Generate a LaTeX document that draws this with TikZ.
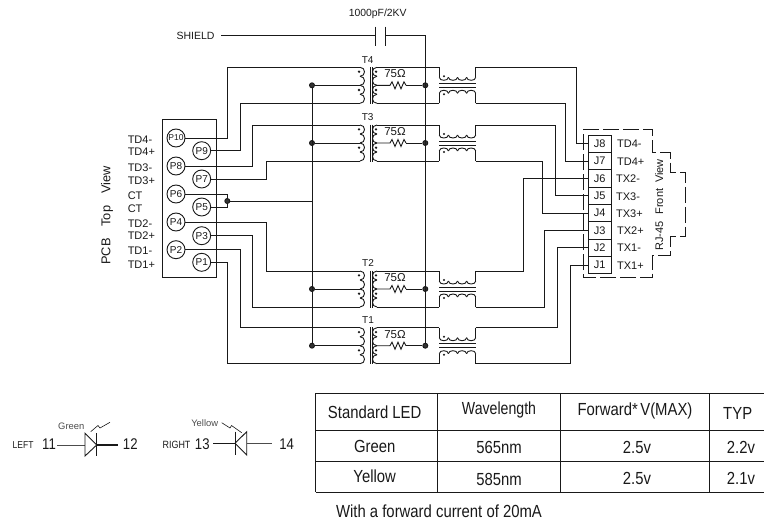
\documentclass[tikz,border=0pt]{standalone}
\usepackage{fontspec}
\setmainfont{Liberation Sans}
\usepackage{tikz}

\tikzset{
    lbl/.style={inner sep=0pt, font=\fontsize{11}{12}\selectfont},
    tinylbl/.style={inner sep=0pt, font=\fontsize{9}{10}\selectfont},
    numlbl/.style={inner sep=0pt, font=\fontsize{15.5}{16}\selectfont, xscale=.85, transform shape},
    tablbl/.style={inner sep=0pt, font=\fontsize{17.5}{18}\selectfont, xscale=.85, transform shape},
    pin/.style={draw, circle, fill=white, minimum size=18pt, inner sep=0pt, font=\fontsize{10}{11}\selectfont},
    jack/.style={draw, fill=white, minimum width=23pt, minimum height=17.35pt, inner sep=0pt, font=\fontsize{11}{12}\selectfont},
    junc/.style={draw, circle, fill=black!80, minimum size=5pt, inner sep=0pt},
    xfmr/.pic={
        \foreach \i in {0,1,2,3} {
            \draw (-8, -18+9*\i) .. controls (-2, -18+9*\i) and (-2, -9+9*\i) .. (-8, -9+9*\i);
            \draw (9, -18+9*\i) .. controls (3, -18+9*\i) and (3, -9+9*\i) .. (9, -9+9*\i);
        }
        \draw (2, -18.5) -- (2, 18.5);
        \draw (4.4, -18.5) -- (4.4, 18.5);
        \fill (-9, -13.6) circle (1.3pt);
        \fill (-9, 4.7) circle (1.3pt);
        \fill (8, -13.6) circle (1.3pt);
        \fill (8, 4.7) circle (1.3pt);
        \draw (9, 0) -- (22, 0) -- (24, -3.5) -- (27, 3.5) -- (30, -3.5) -- (33, 3.5) -- (36, -3.5) -- (38, 0);
        \coordinate (-a) at (-8, -18);
        \coordinate (-b) at (-8, 0);
        \coordinate (-c) at (-8, 18);
        \coordinate (-d) at (9, -18);
        \coordinate (-e) at (9, 18);
        \coordinate (-r) at (38, 0);
    },
    choke/.pic={
        \foreach \i in {0,1,2,3} {
            \draw (9.1*\i, -8) .. controls (9.1*\i, -4) and (9.1+9.1*\i, -4) .. (9.1+9.1*\i, -8);
            \draw (9.1*\i, 8) .. controls (9.1*\i, 4) and (9.1+9.1*\i, 4) .. (9.1+9.1*\i, 8);
        }
        \draw (0, -18) -- (0, -8);
        \draw (36.4, -18) -- (36.4, -8);
        \draw (0, 18) -- (0, 8);
        \draw (36.4, 18) -- (36.4, 8);
        \draw (0, -2) -- (36.4, -2);
        \draw (0, 2) -- (36.4, 2);
        \fill (4.7, -9) circle (1.1pt);
        \fill (4.7, 9) circle (1.1pt);
        \coordinate (-a) at (0, -18);
        \coordinate (-b) at (0, 18);
        \coordinate (-c) at (36.4, -18);
        \coordinate (-d) at (36.4, 18);
    }
}

\begin{document}
\begin{tikzpicture}[x=1pt, y=-1pt, line width=.9pt, black!90]
    \useasboundingbox (0, 0) rectangle (764, 522);

    \node[draw, minimum width=54pt, minimum height=158pt, inner sep=0pt] (pcb) at (189.7, 198) {};
    \node[pin, font=\fontsize{8.5}{9}\selectfont] (p10) at (176, 138) {P10};
    \node[pin] (p9) at (201.7, 150.7) {P9};
    \node[pin] (p8) at (176, 166) {P8};
    \node[pin] (p7) at (201.7, 179) {P7};
    \node[pin] (p6) at (176, 194) {P6};
    \node[pin] (p5) at (201.7, 207) {P5};
    \node[pin] (p4) at (176, 222) {P4};
    \node[pin] (p3) at (201.7, 235.7) {P3};
    \node[pin] (p2) at (176, 249.7) {P2};
    \node[pin] (p1) at (201.7, 262.3) {P1};

    \node[lbl, anchor=west] (td4m) at (127.3, 139.3) {TD4-};
    \node[lbl, anchor=west] (td4p) at (127.3, 152) {TD4+};
    \node[lbl, anchor=west] (td3m) at (127.3, 167.3) {TD3-};
    \node[lbl, anchor=west] (td3p) at (127.3, 180.7) {TD3+};
    \node[lbl, anchor=west] (cta) at (127.3, 195.7) {CT};
    \node[lbl, anchor=west] (ctb) at (127.3, 209) {CT};
    \node[lbl, anchor=west] (td2m) at (127.3, 223.3) {TD2-};
    \node[lbl, anchor=west] (td2p) at (127.3, 236) {TD2+};
    \node[lbl, anchor=west] (td1m) at (127.3, 251) {TD1-};
    \node[lbl, anchor=west] (td1p) at (127.3, 264.3) {TD1+};
    \node[lbl, rotate=90, font=\fontsize{12.8}{13}\selectfont] (pcbview) at (107, 215.5) {PCB\hspace{12pt}Top\hspace{12pt}View};

    \pic (t4) at (368, 85.3) {xfmr};
    \pic (t3) at (368, 143) {xfmr};
    \pic (t2) at (368, 289) {xfmr};
    \pic (t1) at (368, 345.7) {xfmr};
    \pic (c4) at (439.3, 85.3) {choke};
    \pic (c3) at (439.3, 143) {choke};
    \pic (c2) at (439.3, 289) {choke};
    \pic (c1) at (439.3, 345.7) {choke};

    \node[lbl, font=\fontsize{10}{11}\selectfont] (t4name) at (367.7, 60.3) {T4};
    \node[lbl, font=\fontsize{10}{11}\selectfont] (t3name) at (367.7, 117.3) {T3};
    \node[lbl, font=\fontsize{10}{11}\selectfont] (t2name) at (368, 263.3) {T2};
    \node[lbl, font=\fontsize{10}{11}\selectfont] (t1name) at (368, 320) {T1};
    \node[lbl, font=\fontsize{11.5}{12}\selectfont] (r4) at (395, 74) {75Ω};
    \node[lbl, font=\fontsize{11.5}{12}\selectfont] (r3) at (395, 132) {75Ω};
    \node[lbl, font=\fontsize{11.5}{12}\selectfont] (r2) at (395, 278) {75Ω};
    \node[lbl, font=\fontsize{11.5}{12}\selectfont] (r1) at (395, 335) {75Ω};

    \node[junc] (bus4) at (312, 85.3) {};
    \node[junc] (bus3) at (312, 143) {};
    \node[junc] (bus2) at (312, 289) {};
    \node[junc] (bus1) at (312, 345.7) {};
    \node[junc] (ct) at (227.3, 201) {};
    \node[junc] (gnd4) at (425.3, 85.3) {};
    \node[junc] (gnd3) at (425.3, 143) {};
    \node[junc] (gnd2) at (425.3, 289) {};
    \node[junc] (gnd1) at (425.3, 345.7) {};

    \node[jack] (j8) at (599.8, 143.7) {J8};
    \node[jack] (j7) at (599.8, 161) {J7};
    \node[jack] (j6) at (599.8, 178.4) {J6};
    \node[jack] (j5) at (599.8, 195.7) {J5};
    \node[jack] (j4) at (599.8, 213.1) {J4};
    \node[jack] (j3) at (599.8, 230.4) {J3};
    \node[jack] (j2) at (599.8, 247.8) {J2};
    \node[jack] (j1) at (599.8, 265.1) {J1};

    \draw (p10.east) -- (227.3, 138) |- (t4-a);
    \draw (p9.east) -- (240.7, 150.7) |- (t4-c);
    \draw (p8.east) -- (252.7, 166) |- (t3-a);
    \draw (p7.east) -- (266, 179) |- (t3-c);
    \draw (p6.east) -| (ct) |- (p5.east);
    \draw (p4.east) -- (266, 222) |- (t2-a);
    \draw (p3.east) -- (252.7, 235.7) |- (t2-c);
    \draw (p2.east) -- (240.7, 249.7) |- (t1-a);
    \draw (p1.east) -- (227.3, 262.3) |- (t1-c);

    \draw (ct) -- (ct -| bus4);
    \draw (bus4) -- (bus1);
    \draw (bus4) -- (t4-b);
    \draw (bus3) -- (t3-b);
    \draw (bus2) -- (t2-b);
    \draw (bus1) -- (t1-b);
    \draw (t4-r) -- (gnd4);
    \draw (t3-r) -- (gnd3);
    \draw (t2-r) -- (gnd2);
    \draw (t1-r) -- (gnd1);

    \draw (t4-d) -- (c4-a);
    \draw (t4-e) -- (c4-b);
    \draw (t3-d) -- (c3-a);
    \draw (t3-e) -- (c3-b);
    \draw (t2-d) -- (c2-a);
    \draw (t2-e) -- (c2-b);
    \draw (t1-d) -- (c1-a);
    \draw (t1-e) -- (c1-b);

    \draw (c4-c) -- (576, 67.3) |- (j8.west);
    \draw (c4-d) -- (565.7, 103.3) |- (j7.west);
    \draw (c3-c) -- (555, 125) |- (j5.west);
    \draw (c3-d) -- (542.7, 161) |- (j4.west);
    \draw (c2-c) -- (523.3, 271) |- (j6.west);
    \draw (c2-d) -- (544, 307) |- (j3.west);
    \draw (c1-c) -- (557.3, 327.7) |- (j2.west);
    \draw (c1-d) -- (570.7, 363.7) |- (j1.west);

    \node[lbl, anchor=east, font=\fontsize{10.5}{12}\selectfont] (shield) at (215, 35.7) {SHIELD};
    \node[lbl, font=\fontsize{10.4}{12}\selectfont] (capval) at (377.7, 14.3) {1000pF/2KV};
    \coordinate (capa) at (375.7, 35.7);
    \coordinate (capb) at (385.3, 35.7);
    \draw ([xshift=6pt]shield.east |- capa) -- (capa);
    \draw (375.7, 26.7) -- (375.7, 45.7);
    \draw (385.3, 26.7) -- (385.3, 45.7);
    \draw (capb) -| (gnd1);

    \node[lbl, anchor=west] (r8) at (616.7, 144) {TD4-};
    \node[lbl, anchor=west] (r7) at (616.7, 161.7) {TD4+};
    \node[lbl, anchor=west] (r6) at (615.7, 179) {TX2-};
    \node[lbl, anchor=west] (r5) at (615.7, 196.7) {TX3-};
    \node[lbl, anchor=west] (r4b) at (615.7, 214) {TX3+};
    \node[lbl, anchor=west] (r3b) at (616.7, 231) {TX2+};
    \node[lbl, anchor=west] (r2b) at (616.7, 247.7) {TX1-};
    \node[lbl, anchor=west] (r1b) at (616.7, 265.3) {TX1+};
    \node[lbl, rotate=90] (rjview) at (659.3, 205) {RJ-45\hspace{7pt}Front\hspace{6pt}View};
    \draw[dash pattern=on 16pt off 4pt] (583.3, 129.3) -- (652.3, 129.3) -- (652.3, 152.3) -- (670, 152.3) -- (670, 172.3) -- (685.7, 172.3) -- (685.7, 236.7) -- (670, 236.7) -- (670, 255) -- (652.3, 255) -- (652.3, 277.3) -- (583.3, 277.3) -- cycle;

    \node[numlbl, anchor=west, font=\fontsize{10}{10}\selectfont] (leftname) at (12.3, 445) {LEFT};
    \node[numlbl] (n11) at (49, 444) {11};
    \node[numlbl] (n12) at (130.3, 444) {12};
    \node[tinylbl, font=\fontsize{9.4}{10}\selectfont, text=black!70] (greenname) at (71.3, 426) {Green};
    \coordinate (da) at (85, 445);
    \coordinate (db) at (96.7, 445);
    \draw[black!70] ([xshift=1pt]n11.east |- da) -- (da);
    \draw (85, 433.3) -- (db) -- (85, 456) -- cycle;
    \draw (96.7, 433.3) -- (96.7, 456);
    \draw[line width=1.2pt] (db) -- (118.3, 445);
    \draw[line width=.6pt] (90.7, 431.7) -- (98, 425.5) -- (100, 428) -- (110, 422.3);

    \node[numlbl, anchor=west, font=\fontsize{10.5}{10}\selectfont] (rightname) at (162.3, 444.5) {RIGHT};
    \node[numlbl] (n13) at (202.3, 444) {13};
    \node[numlbl] (n14) at (286.7, 444) {14};
    \node[tinylbl, font=\fontsize{9.4}{10}\selectfont, text=black!70] (yellowname) at (204.7, 423.3) {Yellow};
    \coordinate (dc) at (235, 443.3);
    \coordinate (dd) at (246.7, 443.3);
    \draw[line width=1.2pt] (213.3, 443.3) -- (dc);
    \draw (235, 431.7) -- (235, 455);
    \draw (dc) -- (246.7, 431.7) -- (246.7, 455) -- cycle;
    \draw[black!70] (dd) -- (272.3, 443.3);
    \draw[line width=.6pt] (221.7, 422.7) -- (230, 428) -- (231.5, 425.5) -- (241.7, 432.7);

    \draw (315.7, 393.3) -- (764, 393.3);
    \draw (315.7, 430.7) -- (764, 430.7);
    \draw (315.7, 461.7) -- (764, 461.7);
    \draw (315.7, 492.3) -- (764, 492.3);
    \draw (315.7, 393.3) -- (315.7, 492.3);
    \draw (437.3, 393.3) -- (437.3, 492.3);
    \draw (560.7, 393.3) -- (560.7, 492.3);
    \draw (709.3, 393.3) -- (709.3, 492.3);

    \node[tablbl] (colled) at (374.7, 412.3) {Standard LED};
    \node[tablbl, xscale=.95] (colwave) at (499, 409.7) {Wavelength};
    \node[tablbl] (colfwd) at (635, 411) {Forward*\,V(MAX)};
    \node[tablbl] (coltyp) at (737.7, 413.3) {TYP};
    \node[tablbl] (rowg) at (374.7, 446.7) {Green};
    \node[tablbl] (rowgw) at (499, 447.3) {565nm};
    \node[tablbl] (rowgf) at (637, 447) {2.5v};
    \node[tablbl] (rowgt) at (741, 447) {2.2v};
    \node[tablbl] (rowy) at (374.7, 476) {Yellow};
    \node[tablbl] (rowyw) at (499, 479.3) {585nm};
    \node[tablbl] (rowyf) at (637, 478.3) {2.5v};
    \node[tablbl] (rowyt) at (741, 478.3) {2.1v};
    \node[tablbl, anchor=west] (note) at (335.7, 511.7) {With a forward current of 20mA};
\end{tikzpicture}
\end{document}
